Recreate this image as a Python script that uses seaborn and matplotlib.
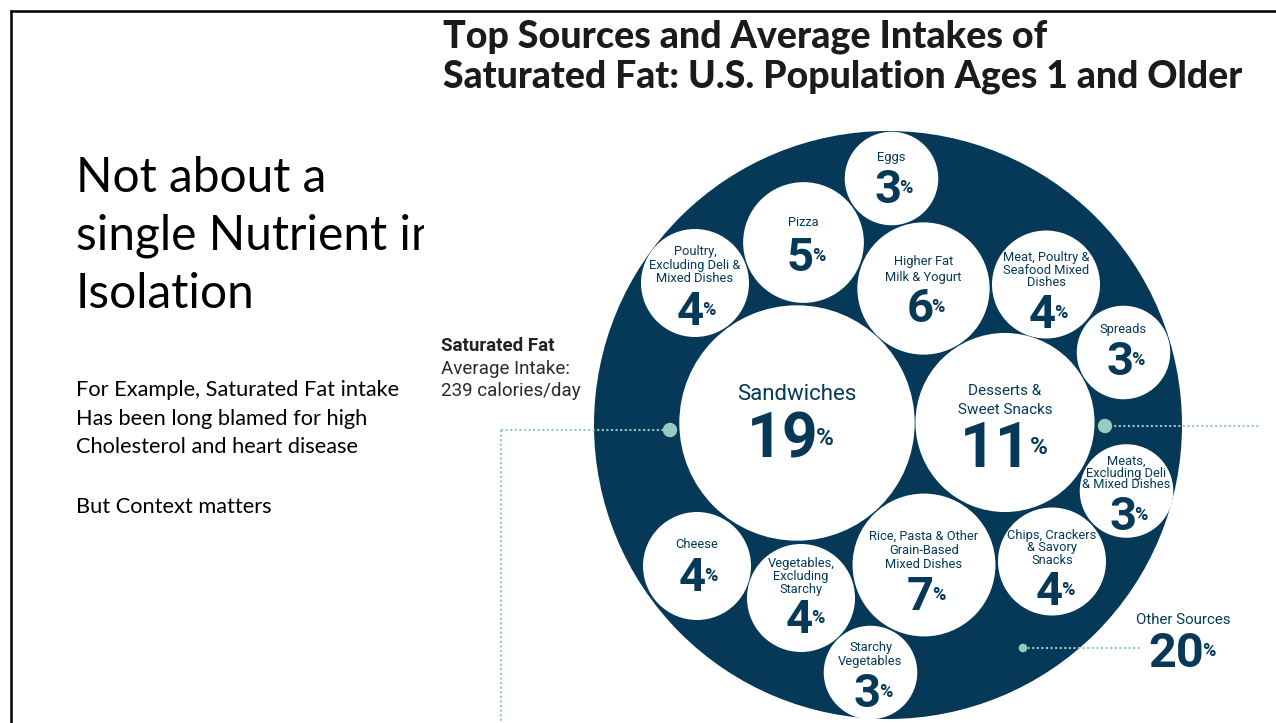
import matplotlib
matplotlib.use("Agg")
import matplotlib.pyplot as plt
from matplotlib.patches import Circle
from matplotlib.transforms import Bbox
import pandas as pd
import seaborn as sns

# ---------------- data ----------------
food_sources = [
    "Sandwiches", "Desserts & Sweet Snacks",
    "Rice, Pasta & Other Grain-Based Mixed Dishes", "Higher Fat Milk & Yogurt",
    "Pizza", "Poultry, Excluding Deli & Mixed Dishes",
    "Meat, Poultry & Seafood Mixed Dishes", "Cheese",
    "Vegetables, Excluding Starchy", "Chips, Crackers & Savory Snacks",
    "Eggs", "Spreads", "Meats, Excluding Deli & Mixed Dishes", "Starchy Vegetables",
]
label_lines = [
    ["Sandwiches"], ["Desserts &", "Sweet Snacks"],
    ["Rice, Pasta & Other", "Grain-Based", "Mixed Dishes"], ["Higher Fat", "Milk & Yogurt"],
    ["Pizza"], ["Poultry,", "Excluding Deli &", "Mixed Dishes"],
    ["Meat, Poultry &", "Seafood Mixed", "Dishes"], ["Cheese"],
    ["Vegetables,", "Excluding", "Starchy"], ["Chips, Crackers", "& Savory", "Snacks"],
    ["Eggs"], ["Spreads"], ["Meats,", "Excluding Deli", "& Mixed Dishes"], ["Starchy", "Vegetables"],
]
percent_share = [19, 11, 7, 6, 5, 4, 4, 4, 4, 4, 3, 3, 3, 3]
other_sources_share = 20
nutrient_name = "Saturated Fat"
average_intake_kcal = 239

title_lines = ["Top Sources and Average Intakes of",
               "Saturated Fat: U.S. Population Ages 1 and Older"]
heading_lines = ["Not about a", "single Nutrient in", "Isolation"]
body_lines = ["For Example, Saturated Fat intake", "Has been long blamed for high",
              "Cholesterol and heart disease", "", "But Context matters"]

# ---------------- layout (pixel space, y downwards) ----------------
bubble_x = [797, 1005, 924, 923.5, 803.5, 695, 1046, 697, 801, 1052, 891.5, 1123.5, 1126.5, 870.5]
bubble_y = [423, 422.5, 565, 288.5, 242.5, 283, 284.5, 566, 598, 561.5, 178.5, 352.5, 491, 672.5]
label_top = [395, 391, 536, 262, 223, 251, 258, 545, 564, 536, 157, 329, 461, 648]
label_step = [0, 19, 14, 15, 0, 14, 12, 0, 12.5, 12, 0, 0, 12, 14]
number_base = [458, 467, 610, 322, 271, 325, 328, 591, 633, 605, 203, 375, 530, 707]
number_right = [21, 27, 10, 10, 10.5, 9, 10, 9, 12, 11, 10, 10, 10, 10.5]

W, H = 1276, 723
NAVY = "#053957"
TEAL = "#95cbc1"
PX_PER_RADIUS = 27.0   # bubble radius = k * sqrt(share)

sns.set_theme(style="white")
plt.rcParams["font.family"] = ["Roboto", "DejaVu Sans"]

fig = plt.figure(figsize=(W / 100, H / 100), dpi=100)
ax = fig.add_axes([0, 0, 1, 1])

# big background disc
ax.add_patch(Circle((888, 425), 294, facecolor=NAVY, edgecolor="none", zorder=1))

# bubbles: marker area proportional to share
df = pd.DataFrame({"source": food_sources, "share": percent_share,
                   "x": bubble_x, "y": bubble_y})
pt_per_px = 72 / 100
area_per_pct = (2 * PX_PER_RADIUS * pt_per_px) ** 2
lo, hi = min(percent_share), max(percent_share)
sns.scatterplot(data=df, x="x", y="y", size="share",
                sizes=(area_per_pct * lo, area_per_pct * hi), size_norm=(lo, hi),
                color="white", linewidth=0, edgecolor="none", legend=False,
                ax=ax, zorder=3)

ax.set_xlim(0, W)
ax.set_ylim(H, 0)
ax.axis("off")


def pct_sign(x_left, base, num_fs, pct_fs):
    # small bold "%" centred on the digit height
    digit_h = 0.711 * num_fs * 100 / 72
    pct_h = 0.72 * pct_fs * 100 / 72
    ax.text(x_left, base - digit_h / 2 + pct_h / 2, "%", ha="left", va="baseline",
            fontsize=pct_fs, fontweight="bold", color=NAVY, zorder=5)


# labels and numbers inside bubbles
for i, share in enumerate(percent_share):
    cx = bubble_x[i]
    if share >= 10:
        lab_fs = 16 if share > 15 else 11
        num_fs, pct_fs = 45, 17.5
    else:
        lab_fs, num_fs, pct_fs = 9.3, 34, 13
    for j, line in enumerate(label_lines[i]):
        ax.text(cx, label_top[i] + j * label_step[i], line, ha="center", va="center",
                fontsize=lab_fs, color=NAVY, zorder=5)
    xr = cx + number_right[i]
    ax.text(xr, number_base[i], f"{share}", ha="right", va="baseline",
            fontsize=num_fs, fontweight="bold", color=NAVY, zorder=5)
    pct_sign(xr - 2, number_base[i], num_fs, pct_fs)

# "Other Sources"
ax.text(1183, 620, "Other Sources", ha="center", va="center", fontsize=10.8, color=NAVY)
ax.text(1204, 667, f"{other_sources_share}", ha="right", va="baseline",
        fontsize=35, fontweight="bold", color=NAVY)
pct_sign(1202, 667, 35, 13)

# dotted leaders and dots
dot = (0, (1, 1.2))
ax.plot([501, 668], [430, 430], color=TEAL, lw=1.5, ls=dot, zorder=2)
ax.plot([501, 501], [430, H], color=TEAL, lw=1.5, ls=dot, zorder=2)
ax.plot([1105, 1260], [426, 426], color=TEAL, lw=1.5, ls=dot, zorder=2)
ax.plot([1023, 1140], [648, 648], color=TEAL, lw=1.5, ls=dot, zorder=2)
ax.add_patch(Circle((670, 430), 6.5, color=TEAL, zorder=4))
ax.add_patch(Circle((1105, 426), 6.5, color=TEAL, zorder=4))
ax.add_patch(Circle((1023, 648), 3.6, color=TEAL, zorder=4))

# nutrient caption
ax.text(441, 351, nutrient_name, ha="left", va="baseline", fontsize=13.5,
        fontweight="bold", color="#222222")
ax.text(441, 374, "Average Intake:", ha="left", va="baseline", fontsize=13.5,
        fontweight="normal", color="#2a2a2a")
ax.text(441, 396, f"{average_intake_kcal} calories/day", ha="left", va="baseline",
        fontsize=13.5, fontweight="normal", color="#2a2a2a")

renderer = fig.canvas.get_renderer()


def fit_width(txt, target_px):
    w = txt.get_window_extent(renderer).width
    txt.set_fontsize(txt.get_fontsize() * target_px / w)


# title
t1 = ax.text(443, 48, title_lines[0], ha="left", va="baseline", fontsize=28,
             fontweight="black", family=["Lato", "DejaVu Sans"], color="#1b1b1b")
t2 = ax.text(443, 88, title_lines[1], ha="left", va="baseline", fontsize=28,
             fontweight="black", family=["Lato", "DejaVu Sans"], color="#1b1b1b")
fit_width(t1, 605)
fit_width(t2, 801)

# slide heading (right side clipped by its text box)
h_base = [192, 250, 308]
heads = []
for line, yb in zip(heading_lines, h_base):
    heads.append(ax.text(76, yb, line, ha="left", va="baseline", fontsize=36,
                         fontweight="normal", family=["Lato", "DejaVu Sans"], color="black"))
fit_width(heads[0], 251)
for h in heads[1:]:
    h.set_fontsize(heads[0].get_fontsize())
heads[1].set_clip_box(Bbox.from_extents(0, 0, 424, H))
heads[1].set_clip_on(True)

# slide body
b_base = [396, 425, 453, 0, 513]
bodies = []
for line, yb in zip(body_lines, b_base):
    if line:
        bodies.append(ax.text(76, yb, line, ha="left", va="baseline", fontsize=14.5,
                              family=["Lato", "DejaVu Sans"], color="black"))
fit_width(bodies[0], 322)
for b in bodies[1:]:
    b.set_fontsize(bodies[0].get_fontsize())

# slide frame
ax.plot([10.5, 10.5], [10, H], color="black", lw=1.8, solid_capstyle="butt")
ax.plot([9.6, W], [11, 11], color="black", lw=1.8, solid_capstyle="butt")

fig.savefig("out.png", dpi=100)
